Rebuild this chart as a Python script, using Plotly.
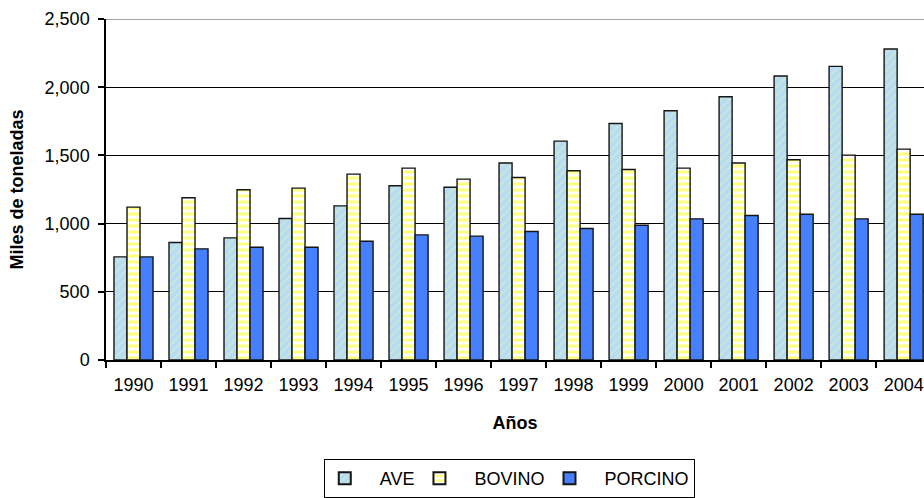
import plotly.graph_objects as go

years = ["1990", "1991", "1992", "1993", "1994", "1995", "1996", "1997",
         "1998", "1999", "2000", "2001", "2002", "2003", "2004"]
ave = [756, 861, 895, 1037, 1130, 1277, 1267, 1444, 1605, 1734, 1827, 1930, 2082, 2153, 2280]
bovino = [1121, 1189, 1248, 1260, 1363, 1407, 1326, 1338, 1387, 1397, 1407, 1444, 1468, 1502, 1546]
porcino = [756, 815, 827, 827, 871, 917, 908, 942, 964, 988, 1035, 1059, 1069, 1035, 1069]
y_ticks = [0, 500, 1000, 1500, 2000, 2500]

FONT = "Liberation Sans, Arial, sans-serif"
NB = "\u00a0"

fig = go.Figure()
fig.add_trace(go.Bar(
    x=years, y=ave, name=NB * 3 + "AVE",
    marker=dict(color="#B6DCF4",
                pattern=dict(shape="/", fgcolor="#E8F0B0", bgcolor="#B6DCF4", size=6, solidity=0.3),
                line=dict(color="#151515", width=1.4)),
))
fig.add_trace(go.Bar(
    x=years, y=bovino, name=NB * 3 + "BOVINO",
    marker=dict(color="#FFFFFF",
                pattern=dict(shape="-", fgcolor="#FFFF00", bgcolor="#FFFFFF", size=6, solidity=0.5),
                line=dict(color="#151515", width=1.4)),
))
fig.add_trace(go.Bar(
    x=years, y=porcino, name=NB * 3 + "PORCINO",
    marker=dict(color="#4680FF", line=dict(color="#151515", width=1.4)),
))

fig.add_shape(type="line", xref="paper", yref="y", x0=0, x1=1, y0=2500, y1=2500,
              line=dict(color="#A0A0A0", width=2), layer="above")

fig.update_layout(
    width=924, height=498,
    margin=dict(l=106, r=0, t=19, b=138),
    paper_bgcolor="white", plot_bgcolor="white",
    barmode="group", bargap=0.29, bargroupgap=0,
    font=dict(family=FONT, size=18, color="black"),
    showlegend=True,
    legend=dict(orientation="h", x=0.493, xanchor="center", yref="container", y=0.0, yanchor="bottom",
                bordercolor="black", borderwidth=1, bgcolor="white",
                font=dict(family=FONT, size=18, color="black"),
                itemsizing="constant"),
    xaxis=dict(type="category", range=[-0.5, 14.37],
               showline=True, linecolor="black", linewidth=1.5,
               ticks="outside", tickson="boundaries", ticklen=6, tickcolor="black", tickwidth=1.5,
               ticklabelstandoff=8,
               showgrid=False,
               tickfont=dict(family=FONT, size=18, color="black"),
               title=dict(text="<b>Años</b>", font=dict(family=FONT, size=18, color="black"), standoff=22)),
    yaxis=dict(range=[0, 2500], tickvals=y_ticks, tickformat=",",
               showline=True, linecolor="black", linewidth=1.5,
               ticks="outside", ticklen=6, tickcolor="black", tickwidth=1.5,
               ticklabelstandoff=5,
               showgrid=True, gridcolor="black", gridwidth=1.3,
               zeroline=False,
               tickfont=dict(family=FONT, size=18, color="black"),
               title=dict(text="<b>Miles de toneladas</b>", font=dict(family=FONT, size=18, color="black"), standoff=16)),
)

fig.write_html("out.html",
               config={"displayModeBar": False},
               post_script="document.body.style.margin='0';document.body.style.overflow='hidden';")
